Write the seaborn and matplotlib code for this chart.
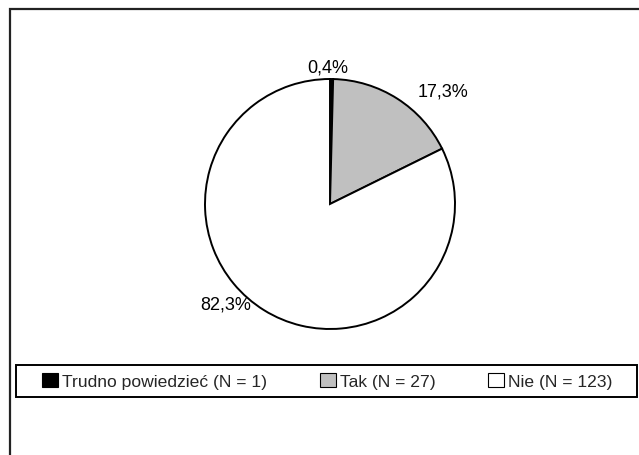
import numpy as np
import matplotlib
matplotlib.use("Agg")
import matplotlib.pyplot as plt
import seaborn as sns
from matplotlib.patches import Rectangle

sns.set_theme(style="white")
plt.rcParams['font.family'] = ['Liberation Sans', 'DejaVu Sans']

# Data
categories = ['Trudno powiedzieć', 'Tak', 'Nie']
counts = [1, 27, 123]
percents = [0.4, 17.3, 82.3]
colors = ['black', '#c0c0c0', 'white']

pct_labels = [f"{p:.1f}%".replace('.', ',') for p in percents]
legend_labels = [f"{c} (N = {n})" for c, n in zip(categories, counts)]

fig = plt.figure(figsize=(6.39, 4.56), dpi=100)
W, H = 639, 456

# Pie axes: center (330, 205), radius 125 px
cx, cy, r = 330, 205, 125
ax = fig.add_axes([(cx - r) / W, (H - cy - r) / H, 2 * r / W, 2 * r / H])
wedges, texts = ax.pie(percents, colors=colors, startangle=90, counterclock=False,
                       labels=pct_labels, labeldistance=1.12,
                       wedgeprops=dict(edgecolor='black', linewidth=1.4),
                       textprops=dict(fontsize=13, color='black'))
ax.set_xlim(-1, 1)
ax.set_ylim(-1, 1)
ax.set_aspect('equal')
ax.axis('off')

# nudge labels like the original layout
offsets = [(-0.03, -0.024), (0.30, -0.04), (-0.24, 0.15)]
for t, (dx, dy) in zip(texts, offsets):
    x, y = t.get_position()
    t.set_position((x + dx, y + dy))
    t.set_ha('center')
    t.set_va('center')
    t.set_clip_on(False)

# Legend box
fig.patches.append(Rectangle((16 / W, (H - 398) / H), 621 / W, 32 / H,
                             transform=fig.transFigure, fill=False,
                             edgecolor='black', linewidth=1.4))
leg = fig.legend(wedges, legend_labels, loc='center', ncol=3,
                 bbox_to_anchor=(327.5 / W, (H - 382) / H),
                 fontsize=12.6, frameon=False, handlelength=0.91, handleheight=0.91,
                 handletextpad=0.23, columnspacing=3.0, borderpad=0, borderaxespad=0)
for h in leg.legend_handles:
    h.set_edgecolor('black')
    h.set_linewidth(0.8)

# Outer border
fig.patches.append(Rectangle((9.5 / W, -0.05), 1.2, (H - 9.5) / H + 0.05,
                             transform=fig.transFigure, fill=False,
                             edgecolor='#222222', linewidth=1.6, clip_on=False))

fig.savefig("out.png", dpi=100)
